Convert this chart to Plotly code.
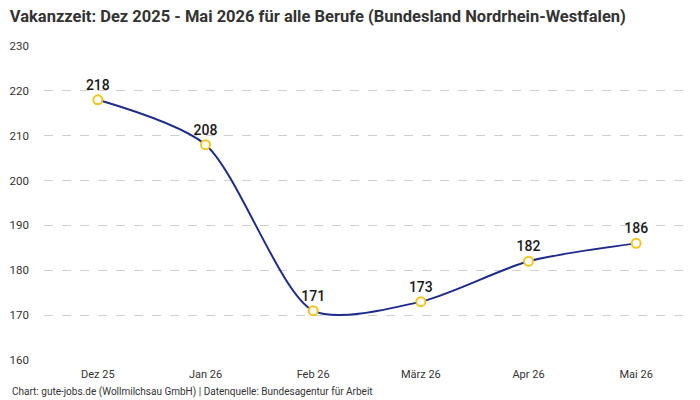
import plotly.graph_objects as go

months = ["Dez 25", "Jan 26", "Feb 26", "März 26", "Apr 26", "Mai 26"]
vakanz = [218, 208, 171, 173, 182, 186]
y_ticks = [160, 170, 180, 190, 200, 210, 220, 230]

FONT = "Liberation Sans Narrow, Roboto, sans-serif"

fig = go.Figure()
fig.add_trace(go.Scatter(
    x=months, y=vakanz,
    mode="lines+markers+text",
    line=dict(color="#1c2b8c", width=2, shape="spline", smoothing=0.75),
    marker=dict(symbol="circle", size=9, color="white",
                line=dict(color="#f5c518", width=2)),
    text=[str(v) for v in vakanz],
    textposition="top center",
    textfont=dict(family="Roboto, sans-serif", size=14, color="#1a1a1a", weight=500),
    cliponaxis=False,
    hoverinfo="x+y",
))

fig.update_layout(
    width=700, height=400,
    margin=dict(l=44, r=10, t=46, b=40),
    paper_bgcolor="white", plot_bgcolor="white",
    showlegend=False,
    title=dict(
        text="<b>Vakanzzeit: Dez 2025 - Mai 2026 für alle Berufe (Bundesland Nordrhein-Westfalen)</b>",
        x=0.014, xanchor="left", y=0.975, yanchor="top",
        font=dict(family=FONT, size=16.5, color="#333333"),
    ),
    xaxis=dict(
        type="category", range=[-0.5, 5.5],
        showgrid=False, zeroline=False, showline=False,
        ticks="", tickfont=dict(family=FONT, size=11, color="#333333"),
        ticklabelstandoff=6,
    ),
    yaxis=dict(
        range=[160, 230], tickvals=y_ticks,
        showgrid=True, gridcolor="#d0d0d0", griddash="dash", gridwidth=1,
        zeroline=False, showline=False, ticks="",
        tickfont=dict(family=FONT, size=11.5, color="#333333"),
        ticklabelstandoff=14,
    ),
    annotations=[dict(
        text="Chart: gute-jobs.de (Wollmilchsau GmbH) | Datenquelle: Bundesagentur für Arbeit",
        xref="paper", yref="paper", x=-0.052, y=-0.075,
        xanchor="left", yanchor="top", showarrow=False,
        font=dict(family=FONT, size=10, color="#333333"),
    )],
)

fig.write_html("out.html")
